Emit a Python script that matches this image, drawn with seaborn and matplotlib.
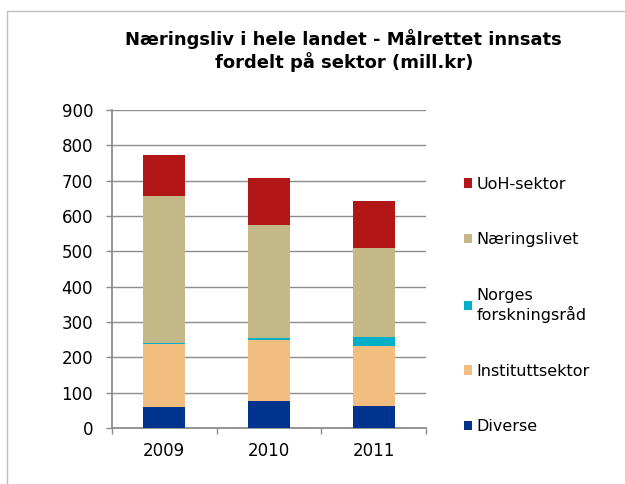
import matplotlib
matplotlib.use("Agg")
import matplotlib.pyplot as plt
import numpy as np
import pandas as pd
import seaborn as sns
from matplotlib.patches import Rectangle

years = ["2009", "2010", "2011"]
sectors = ["Diverse", "Instituttsektor", "Norges\nforskningsråd", "Næringslivet", "UoH-sektor"]
diverse = [60, 75, 63]
institutt = [176, 173, 169]
norges = [3, 7, 26]
naeringsliv = [417, 319, 252]
uoh = [116, 132, 132]
colors = ["#00338E", "#F2BE80", "#00B0C8", "#C4B986", "#B21616"]

title = "Næringsliv i hele landet - Målrettet innsats\nfordelt på sektor (mill.kr)"

df = pd.DataFrame(
    {"year": years, sectors[0]: diverse, sectors[1]: institutt, sectors[2]: norges,
     sectors[3]: naeringsliv, sectors[4]: uoh}
)

sns.set_style("white")
plt.rcParams["font.family"] = ["DejaVu Sans"]
plt.rcParams["text.color"] = "black"
plt.rcParams["xtick.labelcolor"] = "black"
plt.rcParams["ytick.labelcolor"] = "black"
grid_color = "#8C8C8C"

fig = plt.figure(figsize=(6.25, 4.84), dpi=100)
ax = fig.add_axes([0.179, 0.116, 0.503, 0.657])

# outer chart frame
fig.patches.append(Rectangle((7 / 625, -0.1), 1.2, 1 - 11 / 484 + 0.1, transform=fig.transFigure,
                             fill=False, edgecolor="#BFBFBF", linewidth=1.0))

bottom = np.zeros(len(years))
handles = []
for name, color in zip(sectors, colors):
    sns.barplot(data=df, x="year", y=name, bottom=bottom, color=color, width=0.4,
                saturation=1, ax=ax, edgecolor="none", linewidth=0, zorder=3)
    handles.append(Rectangle((0, 0), 1, 1, facecolor=color, edgecolor="none"))
    bottom = bottom + df[name].to_numpy()

ax.set_xlim(-0.5, 2.5)
ax.set_ylim(0, 900)
ax.set_yticks(np.arange(0, 901, 100))
ax.set_xlabel("")
ax.set_ylabel("")
ax.yaxis.grid(True, color=grid_color, linewidth=1.0, zorder=0)
ax.set_axisbelow(True)

for side in ["top", "right"]:
    ax.spines[side].set_visible(False)
for side in ["left", "bottom"]:
    ax.spines[side].set_color(grid_color)
    ax.spines[side].set_linewidth(1.3)

ax.tick_params(axis="y", direction="out", length=4.5, width=1.0, color=grid_color,
               labelsize=12, pad=9, left=True)
ax.tick_params(axis="x", which="major", length=0, labelsize=12, pad=10)
ax.set_xticks([-0.5, 0.5, 1.5, 2.5], minor=True)
ax.tick_params(axis="x", which="minor", direction="out", length=4, width=1.0,
               color=grid_color, bottom=True)

fig.text(0.55, 0.895, title, ha="center", va="center", fontsize=13, fontweight="bold",
         linespacing=1.2)

ax.legend(handles[::-1], sectors[::-1], loc="upper left", bbox_to_anchor=(1.099, 0.81),
          frameon=False, fontsize=11.5, handlelength=0.5, handleheight=0.5,
          handletextpad=0.3, labelspacing=2.55, borderaxespad=0)

fig.savefig("out.png", dpi=100, facecolor="white")
